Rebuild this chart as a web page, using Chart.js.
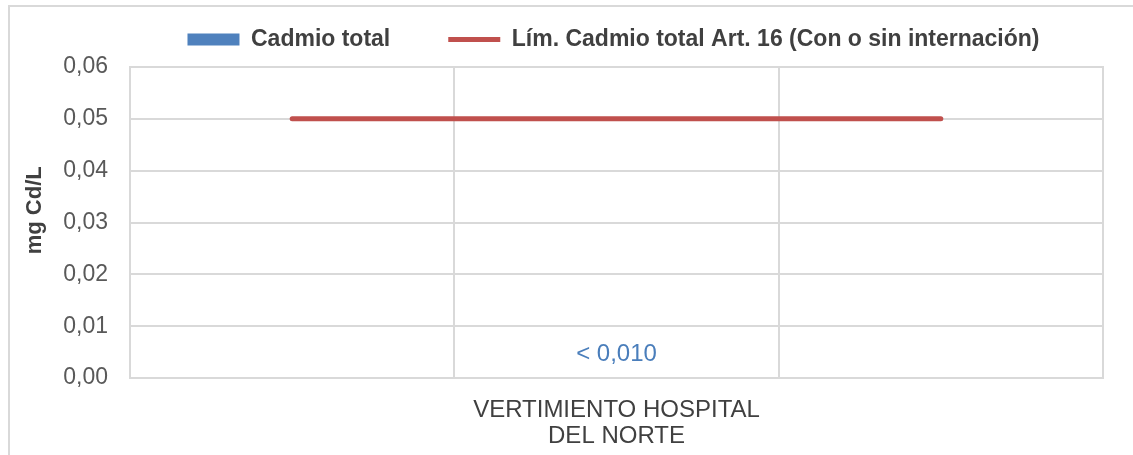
<!DOCTYPE html>
<html>
<head>
<meta charset="utf-8">
<script src="https://cdn.jsdelivr.net/npm/chart.js@4/dist/chart.umd.min.js"></script>
<style>
    html, body { margin: 0; padding: 0; background: #fff; }
    #wrap { position: relative; width: 1133px; height: 455px; }
    #frame {
        position: absolute; left: 8px; top: 5px; right: -5px; bottom: -5px;
        border-top: 2px solid #d9d9d9; border-left: 2px solid #d9d9d9;
        pointer-events: none;
    }
    canvas { position: absolute; left: 0; top: 0; }
</style>
</head>
<body>
<div id="wrap">
    <div id="frame"></div>
    <canvas id="cadmioChart" width="1133" height="455"></canvas>
</div>
<script>
// Data
const categories = [['VERTIMIENTO HOSPITAL', 'DEL NORTE']];
const cadmioValues = [0];
const cadmioLabels = ['< 0,010'];
const limitSlots = ['', '', ''];
const limitValues = [0.05, 0.05, 0.05];
const yTicks = [0, 0.01, 0.02, 0.03, 0.04, 0.05, 0.06];

const FONT = "'Liberation Sans', Arial, sans-serif";

// Light grey frame around the plot area
const plotBorder = {
    id: 'plotBorder',
    afterDraw(chart) {
        const a = chart.chartArea, ctx = chart.ctx;
        ctx.save();
        ctx.strokeStyle = '#d9d9d9';
        ctx.lineWidth = 2;
        ctx.strokeRect(a.left, a.top, a.right - a.left, a.bottom - a.top);
        ctx.restore();
    }
};

// Legend: wide gap between items but a short box, shifted like the source
const legendTweak = {
    id: 'legendTweak',
    beforeInit(chart) {
        const fit = chart.legend.fit;
        chart.legend.fit = function () {
            fit.call(this);
            if (this.isHorizontal()) this.height = 50;
        };
    },
    afterLayout(chart) {
        chart.legend.left += 57;
        chart.legend.right += 57;
        chart.legend.top = -30;
    }
};

// "< 0,010" text above the (empty) bar
const barText = {
    id: 'barText',
    afterDatasetsDraw(chart) {
        const meta = chart.getDatasetMeta(0);
        const ctx = chart.ctx;
        ctx.save();
        ctx.font = '24px ' + FONT;
        ctx.fillStyle = '#4a7ebb';
        ctx.textAlign = 'center';
        ctx.textBaseline = 'middle';
        meta.data.forEach((bar, i) => {
            ctx.fillText(cadmioLabels[i], bar.x, bar.y - 24);
        });
        ctx.restore();
    }
};

const ctx = document.getElementById('cadmioChart').getContext('2d');
new Chart(ctx, {
    type: 'bar',
    data: {
        labels: categories,
        datasets: [{
            type: 'bar',
            label: 'Cadmio total',
            data: cadmioValues,
            backgroundColor: '#4f81bd',
            borderWidth: 0,
            grouped: false,
            pointStyle: 'rect',
            xAxisID: 'x',
            yAxisID: 'y'
        }, {
            type: 'line',
            label: 'Lím. Cadmio total Art. 16 (Con o sin internación)',
            data: limitValues,
            borderColor: '#c0504d',
            backgroundColor: '#c0504d',
            borderWidth: 5,
            borderCapStyle: 'round',
            pointRadius: 0,
            pointStyle: 'line',
            xAxisID: 'x2',
            yAxisID: 'y'
        }]
    },
    options: {
        responsive: false,
        animation: false,
        layout: { padding: { left: 10, right: 30, top: 10, bottom: 0 } },
        plugins: {
            legend: {
                position: 'top',
                labels: {
                    color: '#404040',
                    font: { family: FONT, size: 23, weight: 'bold' },
                    usePointStyle: true,
                    pointStyleWidth: 52,
                    boxWidth: 52,
                    boxHeight: 12,
                    padding: 58
                }
            },
            tooltip: { enabled: false }
        },
        scales: {
            x: {
                type: 'category',
                position: 'bottom',
                offset: true,
                grid: { display: false },
                border: { display: true, color: '#d9d9d9', width: 2 },
                ticks: {
                    color: '#404040',
                    font: { family: FONT, size: 24, lineHeight: 1.1 },
                    maxRotation: 0,
                    padding: 11
                },
                afterFit(scale) { scale.height = 77; }
            },
            x2: {
                type: 'category',
                labels: limitSlots,
                position: 'top',
                offset: true,
                grid: { offset: true, color: '#d9d9d9', lineWidth: 2, drawTicks: false },
                border: { display: false },
                ticks: { display: false },
                afterFit(scale) { scale.height = 7; }
            },
            y: {
                min: 0,
                max: 0.06,
                afterBuildTicks(scale) { scale.ticks = yTicks.map(v => ({ value: v })); },
                grid: { color: '#d9d9d9', lineWidth: 2, drawTicks: false },
                border: { display: true, color: '#d9d9d9', width: 2 },
                ticks: {
                    color: '#595959',
                    font: { family: FONT, size: 23 },
                    padding: 22,
                    callback: v => v.toFixed(2).replace('.', ',')
                },
                title: {
                    display: true,
                    text: '    mg Cd/L',
                    color: '#404040',
                    font: { family: FONT, size: 22, weight: 'bold' },
                    padding: { top: 12, bottom: 0 }
                },
                afterFit(scale) { scale.width = 120; }
            }
        }
    },
    plugins: [plotBorder, legendTweak, barText]
});
</script>
</body>
</html>
